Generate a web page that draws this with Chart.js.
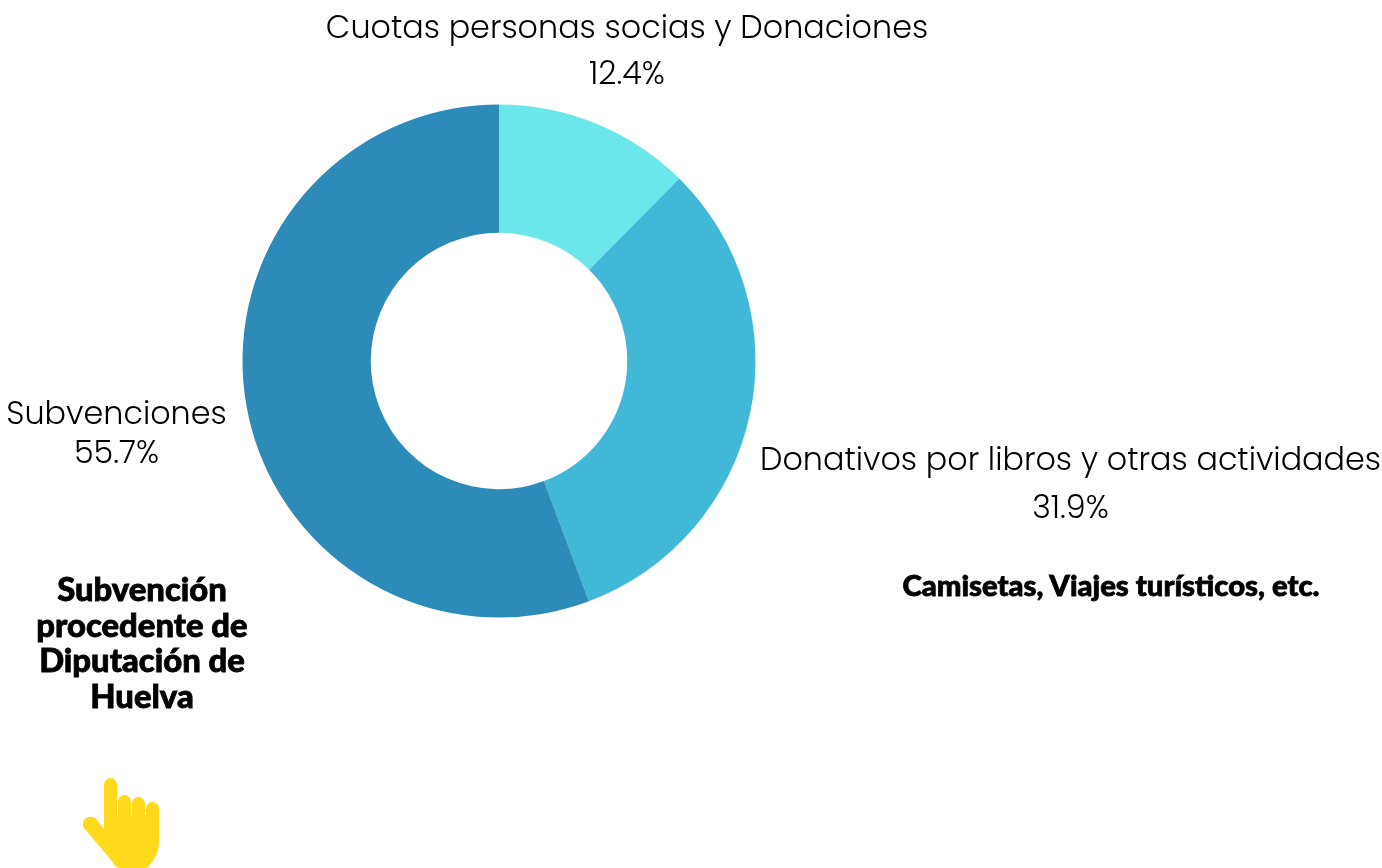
<!DOCTYPE html>
<html><head><meta charset="utf-8">
<style>
html,body{margin:0;padding:0;background:#fff;overflow:hidden}
#w{position:absolute;left:0;top:0;width:1382px;height:868px}
.n{position:absolute;font-family:Lato,"Open Sans",sans-serif;font-weight:900;color:#000;text-align:center;-webkit-text-stroke:0.8px #000}
</style>
<script src="https://cdn.jsdelivr.net/npm/chart.js@4"></script>
</head><body>
<div id="w"><canvas id="c" width="1382" height="868"></canvas></div>
<div class="n" style="left:22px;top:571px;width:240px;font-size:32.8px;line-height:35.5px">Subvención<br>procedente de<br>Diputación de<br>Huelva</div>
<div class="n" style="left:861px;top:567px;width:500px;font-size:29.3px;line-height:36px">Camisetas, Viajes turísticos, etc.</div>
<svg style="position:absolute;left:0;top:0" width="1382" height="868" viewBox="0 0 1382 868" fill="#FFD91C">
<rect x="104" y="778" width="13" height="60" rx="6.500"/>
<rect x="118" y="795" width="13" height="40" rx="6.500"/>
<rect x="132" y="797" width="13" height="40" rx="6.500"/>
<rect x="146" y="802" width="13" height="40" rx="6.500"/>
<path d="M104 815H159V842C159 853 154 861 147 868H118C115 866 113 863 111 860L84 828C82 825 83 821 85 819C88 816 93 816 96 819L104 829Z"/>
</svg>
<script>
const categories=["Cuotas personas socias y Donaciones","Donativos por libros y otras actividades","Subvenciones"];
const values=[12.4,31.9,55.7];
const colors=["#6BE6EA","#42B8D8","#2D8BBA"];
const labels={id:"labels",afterDraw(c){const x=c.ctx;x.save();x.fillStyle="#000";x.textAlign="center";x.textBaseline="middle";x.font='300 31.8px Poppins,"Open Sans",Lato,sans-serif';
const put=(i,cx,y1,y2)=>{x.fillText(categories[i],cx,y1);x.fillText(values[i].toFixed(1)+"%",cx,y2);};
put(0,627,30,76);put(1,1070.5,462,510);put(2,116.5,416,455);x.restore();}};
new Chart(document.getElementById("c"),{type:"doughnut",data:{labels:categories,datasets:[{data:values,backgroundColor:colors,borderWidth:0}]},
options:{responsive:false,animation:false,cutout:"50%",layout:{padding:{left:242.5,top:104,right:1382-755.5,bottom:868-618}},plugins:{legend:{display:false},tooltip:{enabled:false}}},plugins:[labels]});
</script>
</body></html>
